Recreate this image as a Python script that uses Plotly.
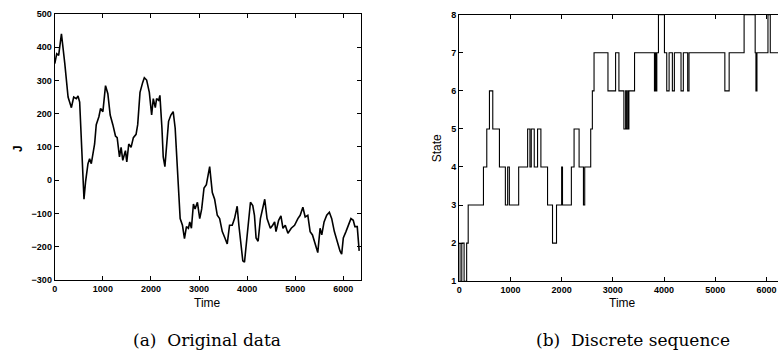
import plotly.graph_objects as go

# ---- (a) Original data ----
time_a = [0, 40, 80, 138, 207, 241, 276, 345, 393, 448, 483, 517, 552, 586, 607, 641, 690, 724, 759,
          828, 862, 917, 952, 1000, 1055, 1103, 1152, 1207, 1262, 1297, 1345, 1379, 1414, 1469, 1497,
          1538, 1586, 1634, 1690, 1724, 1772, 1828, 1862, 1910, 1966, 2014, 2048, 2090, 2117, 2159,
          2186, 2228, 2255, 2290, 2324, 2366, 2414, 2462, 2503, 2538, 2572, 2607, 2655, 2697, 2738,
          2779, 2807, 2841, 2883, 2917, 2966, 3014, 3055, 3103, 3152, 3193, 3221, 3248, 3276, 3324,
          3379, 3428, 3483, 3538, 3586, 3634, 3690, 3738, 3793, 3828, 3869, 3910, 3945, 3986, 4034,
          4069, 4117, 4152, 4186, 4228, 4276, 4324, 4366, 4414, 4483, 4531, 4572, 4600, 4655, 4703,
          4745, 4793, 4848, 4917, 4986, 5055, 5103, 5159, 5207, 5262, 5310, 5359, 5414, 5469, 5517,
          5552, 5600, 5655, 5710, 5759, 5814, 5883, 5931, 5966, 6000, 6055, 6103, 6159, 6207, 6241,
          6290, 6330]
value_a = [350, 380, 375, 440, 352, 294, 250, 218, 250, 245, 253, 235, 118, -18, -57, -3, 50, 65, 50,
           109, 167, 191, 216, 206, 284, 260, 196, 167, 133, 128, 70, 99, 60, 89, 55,
           109, 99, 128, 138, 167, 264, 294, 308, 301, 264, 196, 245, 218, 245, 240,
           255, 157, 70, 41, 99, 177, 196, 206, 157, 70, -18, -115, -135, -175, -139,
           -144, -125, -144, -71, -86, -66, -115, -86, -23, -13, 16, 41, 2, -37, -57,
           -105, -115, -154, -173, -191, -135, -135, -115, -78, -135, -193, -242, -246, -193, -115,
           -66, -76, -105, -173, -183, -115, -81, -57, -115, -144, -135, -125, -154, -120, -107,
           -144, -135, -159, -144, -135, -115, -105, -81, -110, -105, -154, -164, -193, -217, -144,
           -164, -125, -105, -96, -115, -154, -193, -212, -222, -173, -154, -135, -115, -120, -139,
           -139, -212]

# ---- (b) Discrete sequence ----
time_b = [0, 15, 50, 95, 145, 175, 473, 538, 590, 655, 785, 901, 946, 979, 1161, 1336, 1381, 1407,
          1465, 1530, 1595, 1725, 1822, 1900, 2000, 2017, 2190, 2243, 2341, 2426, 2451, 2568, 2600,
          2633, 2905, 3054, 3119, 3216, 3250, 3265, 3290, 3300, 3314, 3424, 3813, 3830, 3846, 3859,
          3891, 4008, 4053, 4099, 4163, 4202, 4332, 4377, 4462, 4488, 5188, 5272, 5564, 5780, 5795,
          5815, 6030, 6075, 6360]
state_b = [2, 1, 2, 1, 2, 3, 4, 5, 6, 5, 4, 3, 4, 3, 4, 5, 4, 5,
           4, 5, 4, 3, 2, 3, 4, 3, 4, 5, 4, 3, 4, 5, 6,
           7, 6, 7, 6, 5, 6, 5, 6, 5, 6, 7, 6, 7, 6, 7,
           8, 7, 6, 7, 6, 7, 6, 7, 6, 7, 6, 7, 8, 7, 6,
           7, 8, 7, 7]

x_ticks = [0, 1000, 2000, 3000, 4000, 5000, 6000]
y_ticks_a = [-300, -200, -100, 0, 100, 200, 300, 400, 500]
y_ticks_b = [1, 2, 3, 4, 5, 6, 7, 8]

W, H = 778, 364
def px(x):
    return x / W
def py(y):
    return 1 - y / H

fig = go.Figure()
fig.add_trace(go.Scatter(x=time_a, y=value_a, mode="lines",
                         line=dict(color="black", width=1.6), xaxis="x", yaxis="y",
                         showlegend=False, hoverinfo="skip"))
fig.add_trace(go.Scatter(x=time_b, y=state_b, mode="lines",
                         line=dict(color="black", width=1.1, shape="hv"), xaxis="x2", yaxis="y2",
                         showlegend=False, hoverinfo="skip"))

tickfont = dict(family="Liberation Sans, Arial, sans-serif", size=9, color="black", weight="bold")
common = dict(showgrid=False, zeroline=False, showline=True, linecolor="black", linewidth=1.2,
              ticks="inside", ticklen=4, tickcolor="black", tickwidth=1, tickfont=tickfont)

fig.update_layout(
    width=W, height=H, margin=dict(l=0, r=0, t=0, b=0),
    paper_bgcolor="white", plot_bgcolor="white",
    xaxis=dict(domain=[px(52), px(359)], range=[0, 6360], tickvals=x_ticks,
               anchor="y", mirror="ticks", **common),
    yaxis=dict(domain=[py(283), py(9)], range=[-300, 500], tickvals=y_ticks_a,
               anchor="x", mirror="ticks", **common),
    xaxis2=dict(domain=[px(458), 1.0], range=[0, 6226], tickvals=x_ticks,
                anchor="y2", mirror="ticks", **common),
    yaxis2=dict(domain=[py(284), py(10)], range=[1, 8], tickvals=y_ticks_b,
                anchor="x2", mirror=False, **common),
)

labfont = dict(family="Liberation Sans, Arial, sans-serif", size=12, color="black")
capfont = dict(family="DejaVu Serif, Liberation Serif, serif", size=17, color="black")
fig.add_annotation(x=px(205), y=py(306), xref="paper", yref="paper", text="Time",
                   showarrow=False, font=labfont, xanchor="center", yanchor="middle")
fig.add_annotation(x=px(622), y=py(306), xref="paper", yref="paper", text="Time",
                   showarrow=False, font=labfont, xanchor="center", yanchor="middle")
fig.add_annotation(x=px(15), y=py(147), xref="paper", yref="paper", text="<b>J</b>",
                   showarrow=False, font=labfont, textangle=-90, xanchor="center", yanchor="middle")
fig.add_annotation(x=px(436), y=py(147), xref="paper", yref="paper", text="State",
                   showarrow=False, font=labfont, textangle=-90, xanchor="center", yanchor="middle")
fig.add_annotation(x=px(205), y=py(344), xref="paper", yref="paper", text="(a)  Original data",
                   showarrow=False, font=capfont, xanchor="center", yanchor="middle")
fig.add_annotation(x=px(632), y=py(344), xref="paper", yref="paper", text="(b)  Discrete sequence",
                   showarrow=False, font=capfont, xanchor="center", yanchor="middle")

fig.write_html("out.html")
